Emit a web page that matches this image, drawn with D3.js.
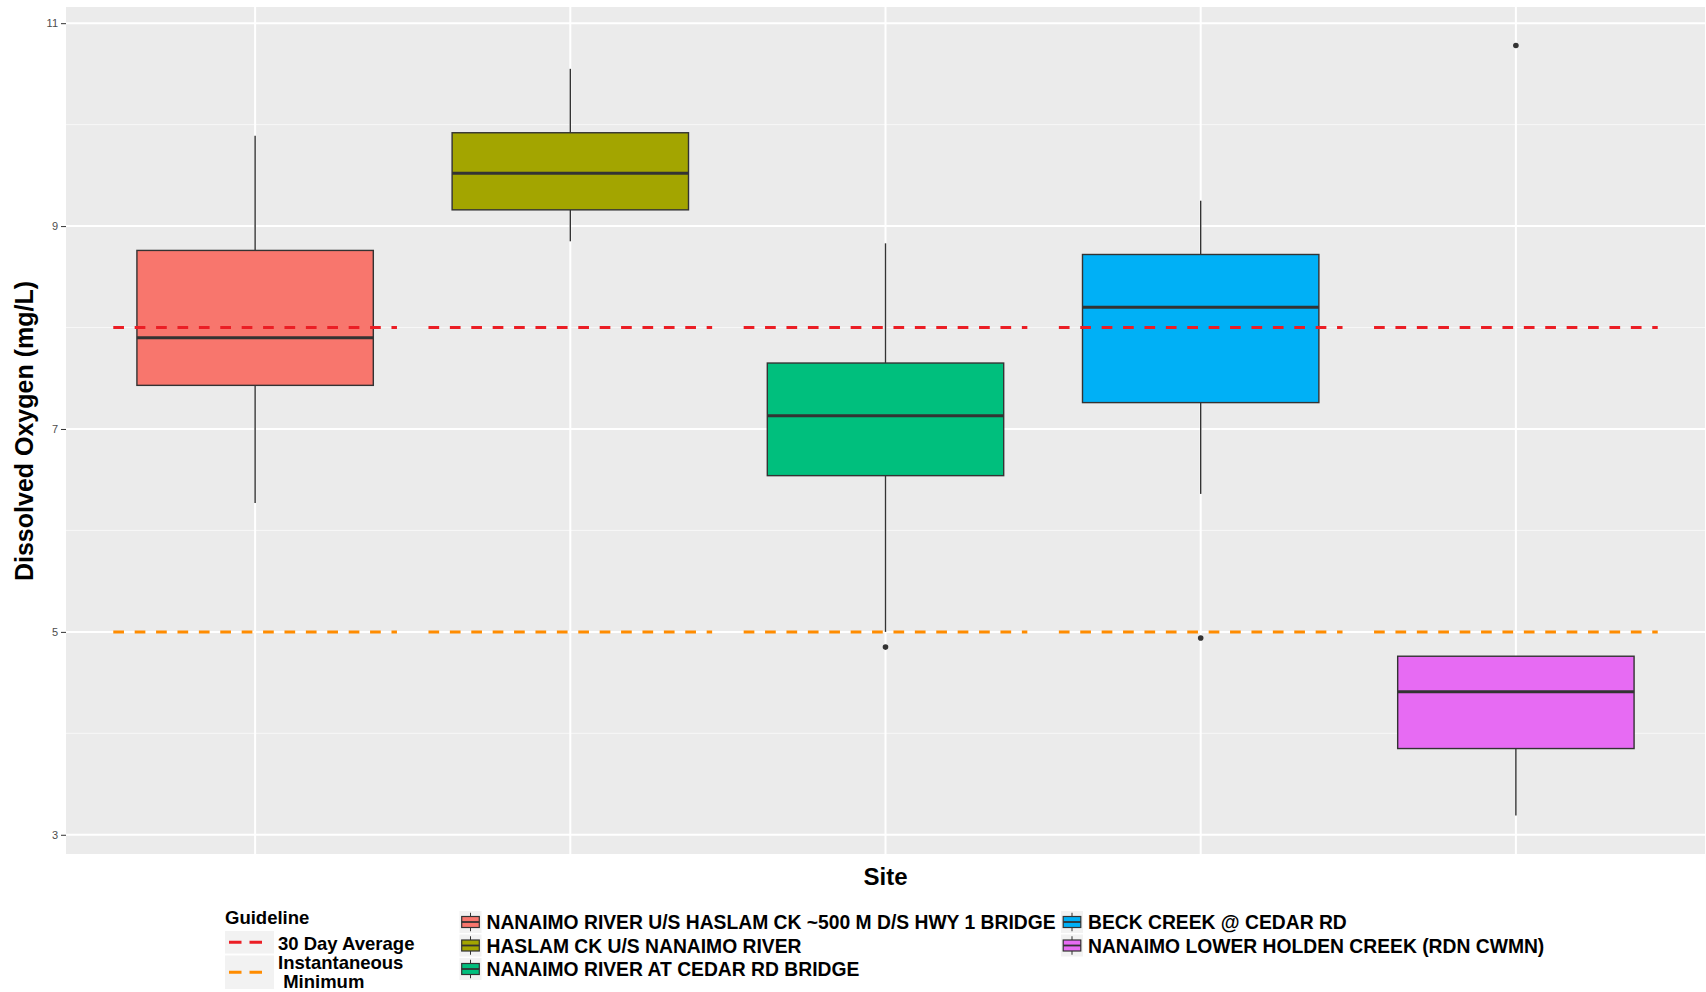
<!DOCTYPE html>
<html>
<head>
<meta charset="utf-8">
<script src="https://cdn.jsdelivr.net/npm/d3@7"></script>
<style>
  html, body { margin: 0; padding: 0; background: #fff; }
  svg { display: block; font-family: "Liberation Sans", Arial, sans-serif; }
</style>
</head>
<body>
<svg id="chart" width="1706" height="992"></svg>
<script>
// ---------------- data ----------------
const sites = [
  "NANAIMO RIVER U/S HASLAM CK ~500 M D/S HWY 1 BRIDGE",
  "HASLAM CK U/S NANAIMO RIVER",
  "NANAIMO RIVER AT CEDAR RD BRIDGE",
  "BECK CREEK @ CEDAR RD",
  "NANAIMO LOWER HOLDEN CREEK (RDN CWMN)"
];
const siteColors = ["#F8766D", "#A3A500", "#00BF7D", "#00B0F6", "#E76BF3"];
const whiskerLow  = [6.27, 8.85, 5.00, 6.36, 3.19];
const q1          = [7.43, 9.16, 6.54, 7.26, 3.85];
const medians     = [7.90, 9.52, 7.13, 8.20, 4.41];
const q3          = [8.76, 9.92, 7.65, 8.72, 4.76];
const whiskerHigh = [9.89, 10.55, 8.83, 9.25, 4.76];
const outlierSite = [2, 3, 4];
const outlierVal  = [4.85, 4.94, 10.78];

const guidelineNames  = ["30 Day Average", "Instantaneous\n Minimum"];
const guidelineValues = [8, 5];
const guidelineColors = ["#EB1E25", "#FF8C00"];

const yTicks = [3, 5, 7, 9, 11];
const yMinorTicks = [4, 6, 8, 10];

// ---------------- layout ----------------
const svg = d3.select("#chart");
const P = { left: 66, right: 1705, top: 7, bottom: 854 };

const x = d3.scalePoint().domain(sites).range([P.left, P.right]).padding(0.6);
const step = x.step();
const allVals = whiskerLow.concat(whiskerHigh, outlierVal);
const lo = d3.min(allVals), hi = d3.max(allVals), ex = (hi - lo) * 0.05;
const y = d3.scaleLinear().domain([lo - ex, hi + ex]).range([P.bottom, P.top]);

// panel
svg.append("rect").attr("x", P.left).attr("y", P.top)
  .attr("width", P.right - P.left).attr("height", P.bottom - P.top)
  .attr("fill", "#EBEBEB");

const grid = svg.append("g");
grid.selectAll("line.minor").data(yMinorTicks).join("line")
  .attr("x1", P.left).attr("x2", P.right)
  .attr("y1", d => y(d)).attr("y2", d => y(d))
  .attr("stroke", "#F7F7F7").attr("stroke-width", 1);
grid.selectAll("line.major").data(yTicks).join("line")
  .attr("x1", P.left).attr("x2", P.right)
  .attr("y1", d => y(d)).attr("y2", d => y(d))
  .attr("stroke", "#FFFFFF").attr("stroke-width", 2);
grid.selectAll("line.vx").data(sites).join("line")
  .attr("x1", d => x(d)).attr("x2", d => x(d))
  .attr("y1", P.top).attr("y2", P.bottom)
  .attr("stroke", "#FFFFFF").attr("stroke-width", 2);

// boxplots
const bw = step * 0.75;
const boxes = svg.append("g");
sites.forEach((s, i) => {
  const cx = x(s);
  const g = boxes.append("g");
  g.append("line").attr("x1", cx).attr("x2", cx)
    .attr("y1", y(whiskerHigh[i])).attr("y2", y(q3[i]))
    .attr("stroke", "#333").attr("stroke-width", 1.4);
  g.append("line").attr("x1", cx).attr("x2", cx)
    .attr("y1", y(q1[i])).attr("y2", y(whiskerLow[i]))
    .attr("stroke", "#333").attr("stroke-width", 1.4);
  g.append("rect").attr("x", cx - bw / 2).attr("y", y(q3[i]))
    .attr("width", bw).attr("height", y(q1[i]) - y(q3[i]))
    .attr("fill", siteColors[i]).attr("stroke", "#333").attr("stroke-width", 1.4);
  g.append("line").attr("x1", cx - bw / 2).attr("x2", cx + bw / 2)
    .attr("y1", y(medians[i])).attr("y2", y(medians[i]))
    .attr("stroke", "#333").attr("stroke-width", 3);
});
boxes.selectAll("circle").data(outlierVal).join("circle")
  .attr("cx", (d, i) => x(sites[outlierSite[i]]))
  .attr("cy", d => y(d)).attr("r", 2.8).attr("fill", "#333");

// guideline segments
const gl = svg.append("g");
guidelineValues.forEach((v, gi) => {
  gl.selectAll(null).data(sites).join("line")
    .attr("x1", d => x(d) - 0.45 * step).attr("x2", d => x(d) + 0.45 * step)
    .attr("y1", y(v)).attr("y2", y(v))
    .attr("stroke", guidelineColors[gi]).attr("stroke-width", 3)
    .attr("stroke-dasharray", "10.7 10.7");
});

// y axis
const yAxis = svg.append("g").attr("transform", `translate(${P.left},0)`)
  .call(d3.axisLeft(y).tickValues(yTicks).tickSize(5).tickPadding(3).tickFormat(d3.format("d")));
yAxis.select(".domain").remove();
yAxis.selectAll("line").attr("stroke", "#333").attr("stroke-width", 1);
yAxis.selectAll("text").attr("fill", "#4D4D4D").style("font-size", "11px")
  .style("font-family", "'Liberation Sans', Arial, sans-serif");

// axis titles
svg.append("text").attr("transform", `translate(33,${(P.top + P.bottom) / 2 + 0.5}) rotate(-90)`)
  .attr("text-anchor", "middle").style("font-size", "25px").style("font-weight", "bold")
  .text("Dissolved Oxygen (mg/L)");
svg.append("text").attr("x", (P.left + P.right) / 2).attr("y", 885)
  .attr("text-anchor", "middle").style("font-size", "24px").style("font-weight", "bold")
  .text("Site");

// ---------------- legends ----------------
const dy = 1.5;
const lg = svg.append("g").attr("transform", `translate(0,${dy})`);
lg.append("text").attr("x", 225).attr("y", 922.5)
  .style("font-size", "18.5px").style("font-weight", "bold").text("Guideline");
const gKeys = [{ y: 929.5, h: 22.5 }, { y: 954, h: 33.5 }];
guidelineNames.forEach((name, i) => {
  const k = gKeys[i];
  lg.append("rect").attr("x", 225).attr("y", k.y).attr("width", 49).attr("height", k.h)
    .attr("fill", "#F2F2F2");
  const ly = k.y + k.h / 2;
  lg.append("line").attr("x1", 229).attr("x2", 262).attr("y1", ly).attr("y2", ly)
    .attr("stroke", guidelineColors[i]).attr("stroke-width", 2.8)
    .attr("stroke-dasharray", "12.5 8");
  const lines = name.split("\n");
  const t = lg.append("text").style("font-size", "18.5px").style("font-weight", "bold")
    .attr("xml:space", "preserve").style("white-space", "pre");
  if (lines.length === 1) {
    t.append("tspan").attr("x", 278).attr("y", 948).text(lines[0]);
  } else {
    t.append("tspan").attr("x", 278).attr("y", 967).text(lines[0]);
    t.append("tspan").attr("x", 278).attr("y", 986).text(lines[1]);
  }
});

const colX = [459.5, 1061];
const rowY = [909.5, 933, 956.5];
const ks = 22;
sites.forEach((s, i) => {
  const col = i < 3 ? 0 : 1;
  const row = i < 3 ? i : i - 3;
  const kx = colX[col], ky = rowY[row];
  const g = lg.append("g").attr("transform", `translate(${kx},${ky})`);
  g.append("rect").attr("width", ks).attr("height", ks).attr("fill", "#F2F2F2");
  g.append("line").attr("x1", ks / 2).attr("x2", ks / 2).attr("y1", ks * 0.08).attr("y2", ks * 0.25)
    .attr("stroke", "#333").attr("stroke-width", 1);
  g.append("line").attr("x1", ks / 2).attr("x2", ks / 2).attr("y1", ks * 0.75).attr("y2", ks * 0.92)
    .attr("stroke", "#333").attr("stroke-width", 1);
  g.append("rect").attr("x", ks * 0.1).attr("y", ks * 0.25)
    .attr("width", ks * 0.8).attr("height", ks * 0.5)
    .attr("fill", siteColors[i]).attr("stroke", "#333").attr("stroke-width", 1.2);
  g.append("line").attr("x1", ks * 0.1).attr("x2", ks * 0.9).attr("y1", ks / 2).attr("y2", ks / 2)
    .attr("stroke", "#333").attr("stroke-width", 1.8);
  lg.append("text").attr("x", kx + 27).attr("y", ky + 18.3)
    .style("font-size", "19.3px").style("font-weight", "bold").text(s);
});
</script>
</body>
</html>
